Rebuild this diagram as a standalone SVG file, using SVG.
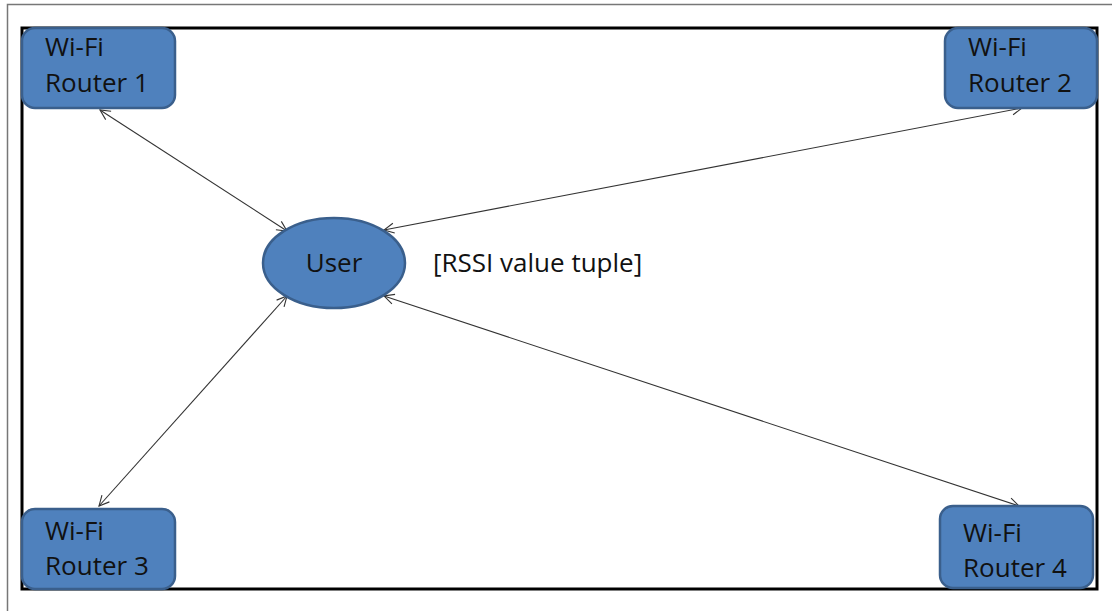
<svg xmlns="http://www.w3.org/2000/svg" width="1112" height="611" viewBox="0 0 1112 611">
<defs>
<style>
.node{fill:#4F81BD;stroke:#3A5F8C;stroke-width:2.5}
.lbl{font-family:"Open Sans","Liberation Sans",sans-serif;font-size:26px;fill:#111}
.con{stroke:#333;stroke-width:1.1;fill:none;marker-start:url(#ah);marker-end:url(#ah)}
</style>
<marker id="ah" viewBox="0 0 12 12" refX="11" refY="6" markerWidth="12" markerHeight="12" markerUnits="userSpaceOnUse" orient="auto-start-reverse">
<path d="M1,1 L11,6 L1,11" fill="none" stroke="#333" stroke-width="1.1"/>
</marker>
</defs>
<rect width="1112" height="611" fill="#fff"/>
<path d="M7.5,611 V4.5 H1112" fill="none" stroke="#777" stroke-width="1.5"/>
<rect x="22" y="28" width="1075" height="561" fill="none" stroke="#000" stroke-width="3"/>
<g id="connectors">
<line class="con" x1="100" y1="110" x2="287" y2="231"/>
<line class="con" x1="1022" y1="108" x2="384" y2="230"/>
<line class="con" x1="99" y1="506" x2="287" y2="296"/>
<line class="con" x1="1019" y1="506" x2="384" y2="296"/>
</g>
<g id="router1">
<rect class="node" x="22" y="28" width="153" height="80" rx="13"/>
<text class="lbl" x="45" y="56">Wi-Fi</text>
<text class="lbl" x="45" y="92">Router 1</text>
</g>
<g id="router2">
<rect class="node" x="945" y="28" width="152" height="80" rx="13"/>
<text class="lbl" x="968" y="56">Wi-Fi</text>
<text class="lbl" x="968" y="92">Router 2</text>
</g>
<g id="router3">
<rect class="node" x="22" y="509" width="153" height="80" rx="13"/>
<text class="lbl" x="45" y="540">Wi-Fi</text>
<text class="lbl" x="45" y="575">Router 3</text>
</g>
<g id="router4">
<rect class="node" x="940" y="506" width="153" height="82" rx="13"/>
<text class="lbl" x="963" y="542">Wi-Fi</text>
<text class="lbl" x="963" y="577">Router 4</text>
</g>
<g id="user">
<ellipse class="node" cx="334" cy="263" rx="71" ry="45"/>
<text class="lbl" x="334" y="272" text-anchor="middle">User</text>
</g>
<g id="rssi-label">
<text class="lbl" x="433" y="272">[RSSI value tuple]</text>
</g>
</svg>
